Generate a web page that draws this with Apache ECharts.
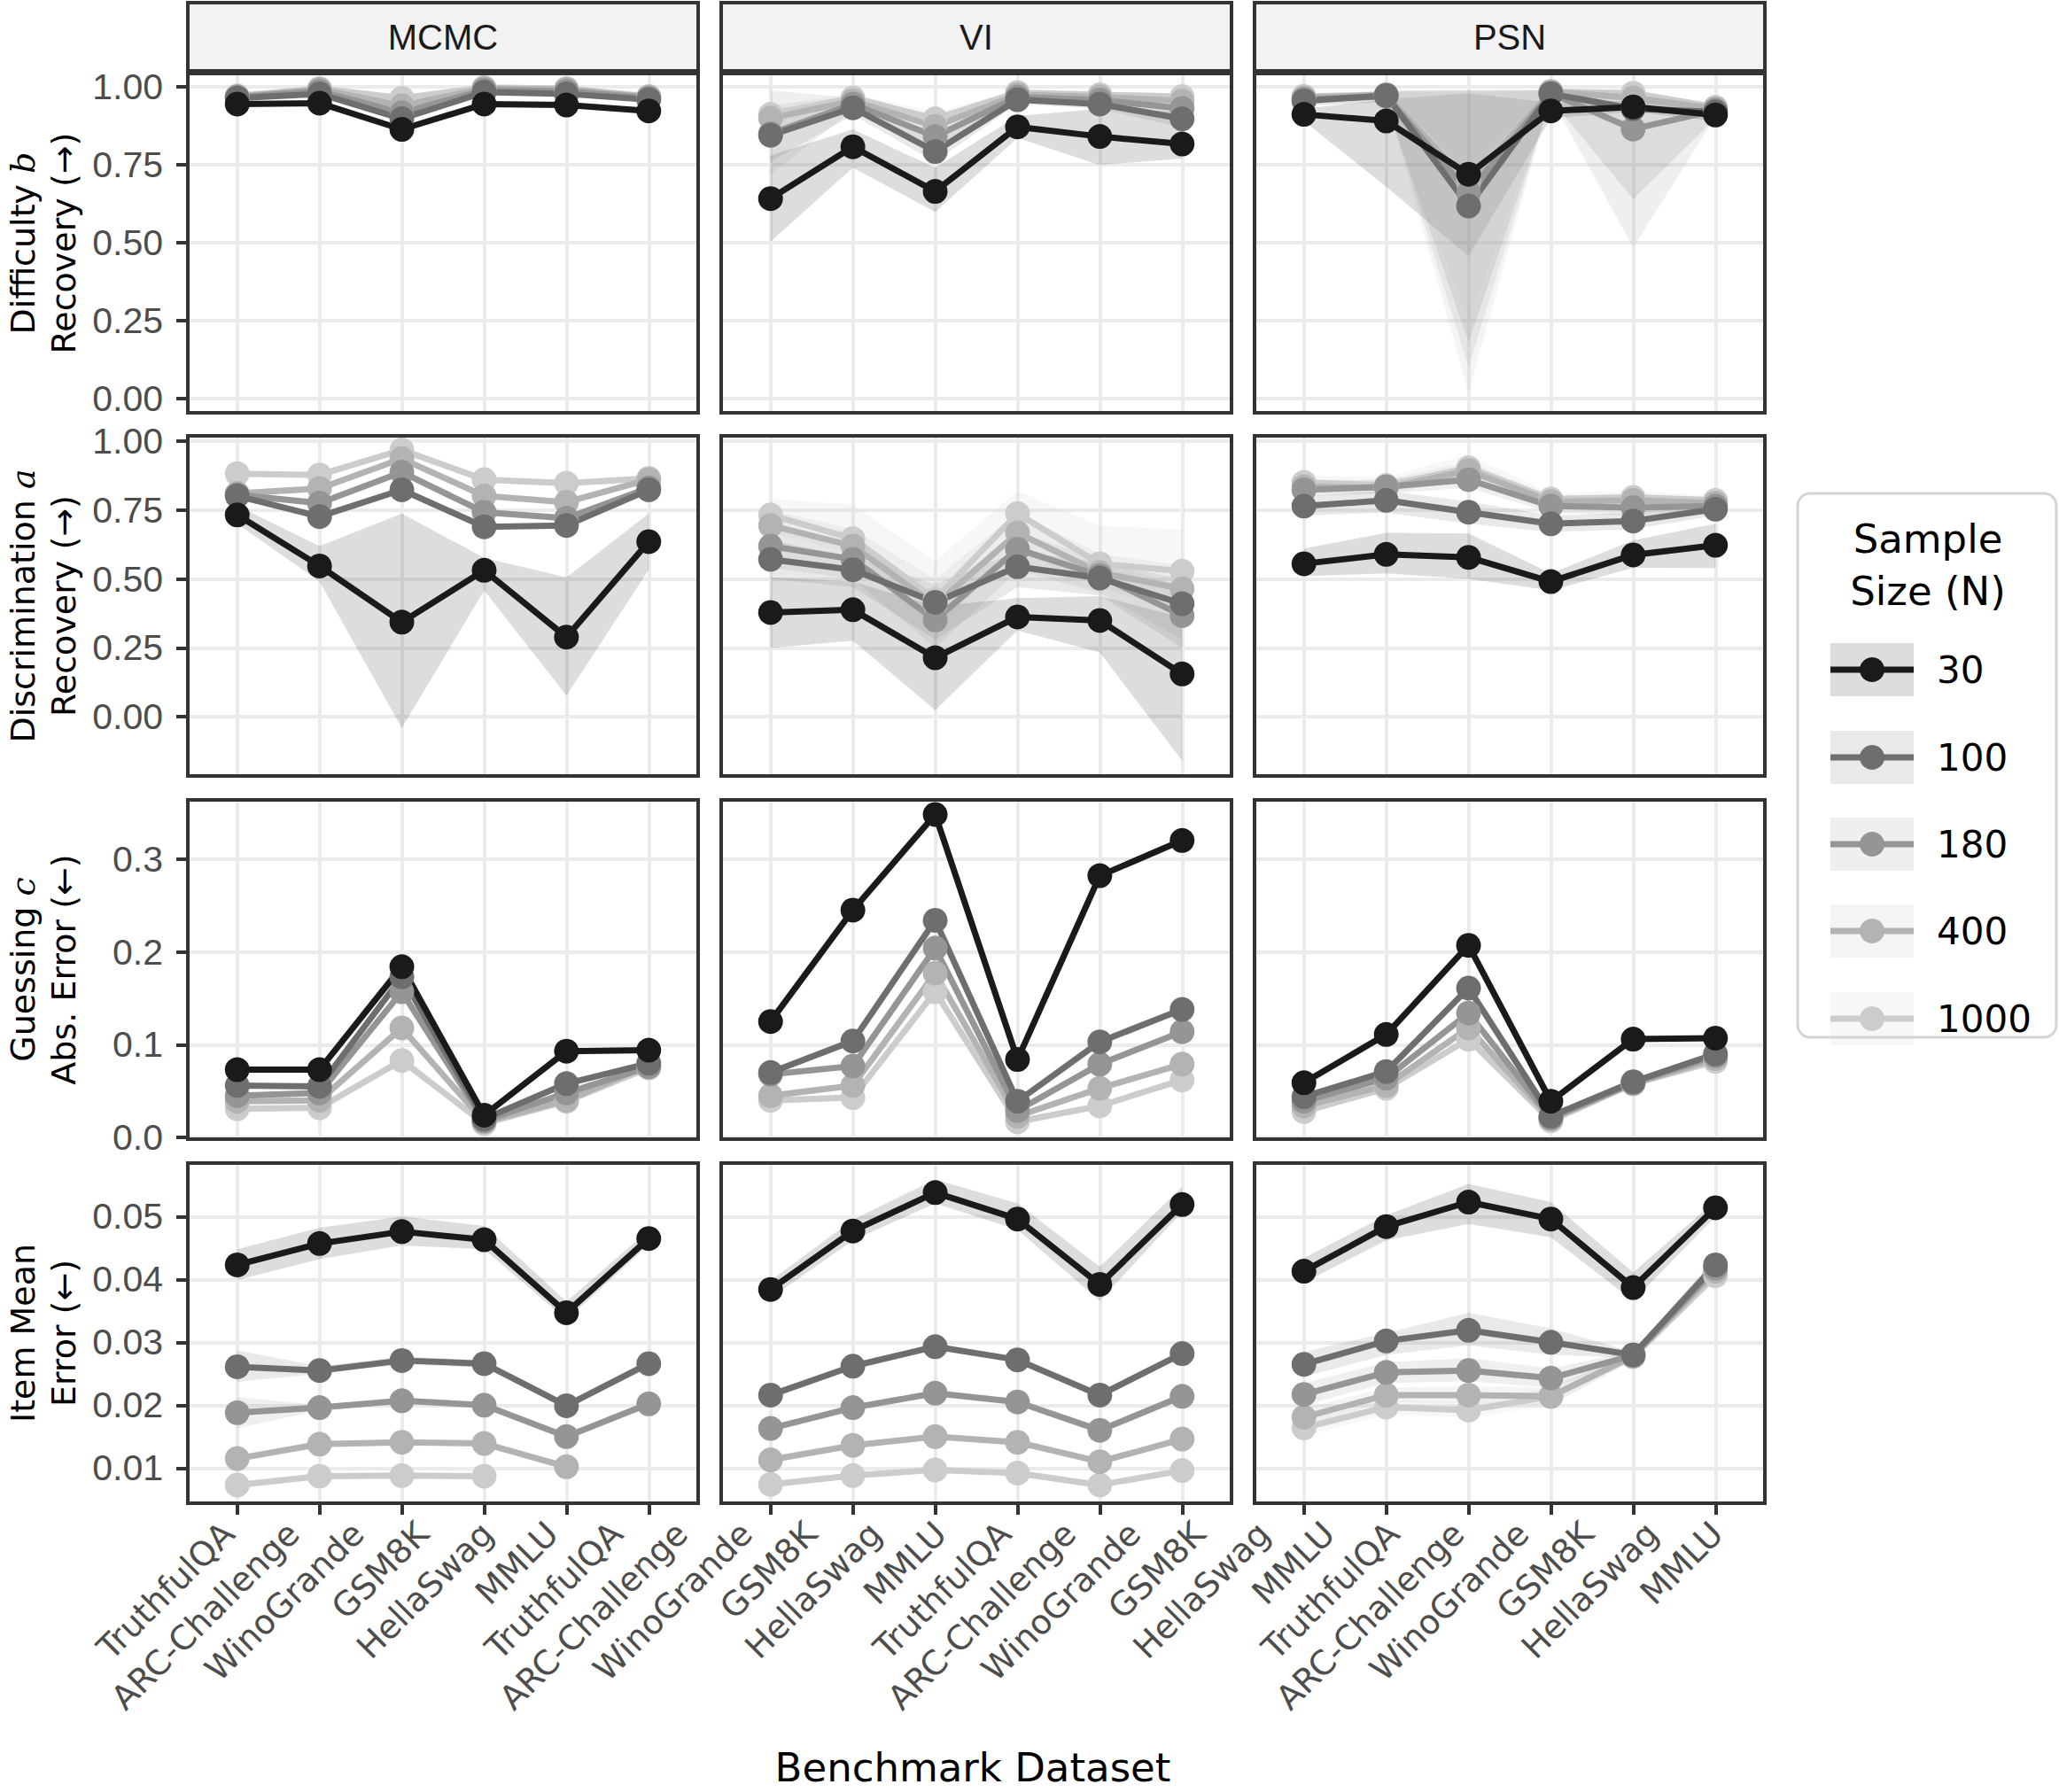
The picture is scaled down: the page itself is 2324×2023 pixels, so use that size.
<!DOCTYPE html>
<html>
<head>
<meta charset="utf-8">
<script src="https://cdn.jsdelivr.net/npm/echarts@6.0.0/dist/echarts.min.js"></script>
<style>
html,body{margin:0;padding:0;background:#ffffff;}
#chart{width:2324px;height:2023px;}
</style>
</head>
<body>
<div id="chart"></div>
<script>
// ---------------- categories & labels ----------------
const benchmarks = ['TruthfulQA', 'ARC-Challenge', 'WinoGrande', 'GSM8K', 'HellaSwag', 'MMLU'];
const methods = ['MCMC', 'VI', 'PSN'];
const sampleSizes = ['30', '100', '180', '400', '1000'];
const xTickLabels = [
  'TruthfulQA', 'ARC-Challenge', 'WinoGrande', 'GSM8K', 'HellaSwag', 'MMLU',
  'TruthfulQA', 'ARC-Challenge', 'WinoGrande', 'GSM8K', 'HellaSwag', 'MMLU',
  'TruthfulQA', 'ARC-Challenge', 'WinoGrande', 'GSM8K', 'HellaSwag', 'MMLU',
  'TruthfulQA', 'ARC-Challenge', 'WinoGrande', 'GSM8K', 'HellaSwag', 'MMLU'
];
const yTickValues = [
  [0, 0.25, 0.5, 0.75, 1],
  [0, 0.25, 0.5, 0.75, 1],
  [0, 0.1, 0.2, 0.3],
  [0.01, 0.02, 0.03, 0.04, 0.05]
];
const yDecimals = [2, 2, 1, 2];
const yRanges = [[-0.045, 1.043], [-0.215, 1.019], [-0.0018, 0.3637], [0.0044, 0.0585]];
const rowTitleMain = ['Difficulty ', 'Discrimination ', 'Guessing ', 'Item Mean'];
const rowTitleVar = ['b', 'a', 'c', ''];
const rowTitleSub = ['Recovery (\u2192)', 'Recovery (\u2192)', 'Abs. Error (\u2190)', 'Error (\u2190)'];
const xAxisTitle = 'Benchmark Dataset';
const legendTitle = ['Sample', 'Size (N)'];

// ---------------- values (rows = N 30,100,180,400,1000; cols = benchmarks) ----------------
// Difficulty b recovery
const b_MCMC_mean = [
  [0.945, 0.948, 0.864, 0.945, 0.942, 0.923],
  [0.964, 0.978, 0.898, 0.983, 0.978, 0.959],
  [0.967, 0.986, 0.917, 0.990, 0.986, 0.964],
  [0.969, 0.992, 0.940, 0.995, 0.992, 0.967],
  [0.971, 0.995, 0.964, 0.998, 0.995, 0.970]
];
const b_MCMC_lo = [null, null, null, null, null];
const b_MCMC_hi = [null, null, null, null, null];
const b_VI_mean = [
  [0.642, 0.808, 0.665, 0.872, 0.841, 0.817],
  [0.845, 0.933, 0.793, 0.959, 0.945, 0.898],
  [0.850, 0.945, 0.841, 0.968, 0.958, 0.931],
  [0.900, 0.955, 0.874, 0.975, 0.968, 0.955],
  [0.912, 0.965, 0.898, 0.982, 0.975, 0.969]
];
const b_VI_lo = [
  [0.504, 0.741, 0.599, 0.836, 0.750, 0.770],
  [0.760, 0.910, 0.760, 0.945, 0.930, 0.870],
  [0.720, 0.925, 0.810, 0.955, 0.945, 0.910],
  [0.860, 0.940, 0.850, 0.965, 0.958, 0.940],
  [0.880, 0.950, 0.875, 0.972, 0.965, 0.955]
];
const b_VI_hi = [
  [0.780, 0.864, 0.741, 0.907, 0.930, 0.920],
  [0.930, 0.955, 0.830, 0.972, 0.960, 0.925],
  [0.990, 0.965, 0.870, 0.980, 0.970, 0.950],
  [0.940, 0.970, 0.900, 0.985, 0.978, 0.968],
  [0.940, 0.978, 0.920, 0.990, 0.985, 0.980]
];
const b_PSN_mean = [
  [0.912, 0.891, 0.720, 0.923, 0.936, 0.910],
  [0.955, 0.973, 0.618, 0.978, 0.930, 0.920],
  [0.960, 0.970, 0.660, 0.980, 0.865, 0.925],
  [0.965, 0.975, 0.690, 0.985, 0.965, 0.930],
  [0.970, 0.975, 0.700, 0.985, 0.980, 0.935]
];
const b_PSN_lo = [
  [0.890, 0.680, 0.457, 0.900, 0.920, 0.890],
  [0.940, 0.950, 0.180, 0.960, 0.640, 0.900],
  [0.945, 0.955, 0.100, 0.965, 0.485, 0.905],
  [0.950, 0.960, 0.020, 0.970, 0.940, 0.915],
  [0.955, 0.960, 0.250, 0.970, 0.965, 0.920]
];
const b_PSN_hi = [
  [0.930, 0.960, 0.980, 0.950, 0.955, 0.930],
  [0.970, 0.990, 0.990, 0.990, 0.990, 0.940],
  [0.970, 0.985, 0.990, 0.990, 0.985, 0.940],
  [0.975, 0.985, 0.985, 0.990, 0.985, 0.945],
  [0.980, 0.985, 0.980, 0.990, 0.990, 0.945]
];

// Discrimination a recovery
const a_MCMC_mean = [
  [0.732, 0.547, 0.343, 0.531, 0.289, 0.635],
  [0.801, 0.726, 0.823, 0.689, 0.694, 0.823],
  [0.805, 0.775, 0.887, 0.742, 0.720, 0.830],
  [0.810, 0.828, 0.936, 0.801, 0.778, 0.860],
  [0.882, 0.877, 0.968, 0.860, 0.847, 0.865]
];
const a_MCMC_lo = [[0.700, 0.490, -0.041, 0.458, 0.077, 0.533], null, null, null, null];
const a_MCMC_hi = [[0.765, 0.619, 0.737, 0.576, 0.506, 0.737], null, null, null, null];
const a_VI_mean = [
  [0.378, 0.388, 0.214, 0.362, 0.349, 0.155],
  [0.571, 0.533, 0.415, 0.544, 0.503, 0.410],
  [0.619, 0.571, 0.351, 0.608, 0.512, 0.367],
  [0.694, 0.619, 0.405, 0.667, 0.523, 0.464],
  [0.732, 0.646, 0.426, 0.737, 0.555, 0.528]
];
const a_VI_lo = [
  [0.249, 0.276, 0.024, 0.313, 0.233, -0.159],
  [0.500, 0.470, 0.280, 0.470, 0.440, 0.250],
  [0.540, 0.500, 0.250, 0.530, 0.450, 0.280],
  [0.630, 0.560, 0.320, 0.600, 0.470, 0.380],
  [0.670, 0.590, 0.360, 0.660, 0.500, 0.450]
];
const a_VI_hi = [
  [0.506, 0.490, 0.400, 0.430, 0.437, 0.360],
  [0.640, 0.580, 0.480, 0.600, 0.560, 0.500],
  [0.680, 0.620, 0.440, 0.670, 0.570, 0.470],
  [0.750, 0.680, 0.500, 0.740, 0.590, 0.550],
  [0.790, 0.770, 0.565, 0.818, 0.694, 0.678]
];
const a_PSN_mean = [
  [0.555, 0.589, 0.578, 0.490, 0.587, 0.622],
  [0.764, 0.785, 0.742, 0.700, 0.710, 0.753],
  [0.823, 0.834, 0.860, 0.764, 0.759, 0.764],
  [0.834, 0.830, 0.893, 0.780, 0.785, 0.775],
  [0.850, 0.839, 0.903, 0.790, 0.796, 0.785]
];
const a_PSN_lo = [
  [0.510, 0.520, 0.500, 0.458, 0.540, 0.539],
  [0.730, 0.740, 0.700, 0.670, 0.680, 0.730],
  [0.800, 0.810, 0.830, 0.740, 0.730, 0.745],
  [0.810, 0.810, 0.860, 0.760, 0.760, 0.760],
  [0.830, 0.820, 0.870, 0.770, 0.770, 0.770]
];
const a_PSN_hi = [
  [0.610, 0.667, 0.665, 0.520, 0.640, 0.700],
  [0.800, 0.820, 0.780, 0.730, 0.740, 0.780],
  [0.850, 0.860, 0.890, 0.790, 0.790, 0.785],
  [0.860, 0.860, 0.925, 0.800, 0.810, 0.790],
  [0.875, 0.870, 0.950, 0.810, 0.820, 0.800]
];

// Guessing c absolute error
const c_MCMC_mean = [
  [0.073, 0.073, 0.184, 0.024, 0.093, 0.094],
  [0.056, 0.055, 0.173, 0.020, 0.058, 0.080],
  [0.045, 0.048, 0.157, 0.018, 0.048, 0.076],
  [0.039, 0.040, 0.118, 0.017, 0.040, 0.078],
  [0.031, 0.032, 0.083, 0.015, 0.039, 0.075]
];
const c_VI_mean = [
  [0.125, 0.245, 0.348, 0.084, 0.282, 0.320],
  [0.070, 0.104, 0.234, 0.039, 0.103, 0.138],
  [0.068, 0.077, 0.204, 0.029, 0.079, 0.114],
  [0.045, 0.056, 0.177, 0.023, 0.053, 0.079],
  [0.040, 0.043, 0.157, 0.017, 0.034, 0.062]
];
const c_PSN_mean = [
  [0.059, 0.111, 0.207, 0.039, 0.106, 0.107],
  [0.044, 0.071, 0.161, 0.023, 0.060, 0.090],
  [0.039, 0.064, 0.134, 0.021, 0.059, 0.088],
  [0.034, 0.056, 0.118, 0.020, 0.058, 0.085],
  [0.028, 0.053, 0.106, 0.018, 0.058, 0.082]
];
const c_none = [null, null, null, null, null];

// Item mean error
const m_MCMC_mean = [
  [0.0423, 0.0457, 0.0476, 0.0463, 0.0347, 0.0465],
  [0.0261, 0.0255, 0.0271, 0.0266, 0.0199, 0.0266],
  [0.0188, 0.0196, 0.0207, 0.0200, 0.0150, 0.0202],
  [0.0115, 0.0138, 0.0141, 0.0139, 0.0102, null],
  [0.0073, 0.0087, 0.0088, 0.0087, null, null]
];
const m_MCMC_lo = [
  [0.0399, 0.0432, 0.0454, 0.0448, 0.0336, 0.0455],
  [0.0237, 0.0250, 0.0265, 0.0260, 0.0195, 0.0260],
  [0.0163, 0.0192, 0.0203, 0.0196, 0.0147, 0.0198],
  null, null
];
const m_MCMC_hi = [
  [0.0448, 0.0482, 0.0500, 0.0485, 0.0365, 0.0478],
  [0.0287, 0.0262, 0.0277, 0.0272, 0.0204, 0.0272],
  [0.0213, 0.0200, 0.0211, 0.0204, 0.0153, 0.0206],
  null, null
];
const m_VI_mean = [
  [0.0384, 0.0477, 0.0538, 0.0496, 0.0392, 0.0519],
  [0.0216, 0.0262, 0.0293, 0.0272, 0.0216, 0.0282],
  [0.0163, 0.0196, 0.0219, 0.0205, 0.0160, 0.0214],
  [0.0113, 0.0136, 0.0150, 0.0141, 0.0110, 0.0146],
  [0.0074, 0.0088, 0.0097, 0.0092, 0.0073, 0.0096]
];
const m_VI_lo = [[0.0370, 0.0462, 0.0521, 0.0479, 0.0366, 0.0507], null, null, null, null];
const m_VI_hi = [[0.0398, 0.0495, 0.0559, 0.0521, 0.0420, 0.0547], null, null, null, null];
const m_PSN_mean = [
  [0.0413, 0.0484, 0.0523, 0.0496, 0.0387, 0.0514],
  [0.0265, 0.0302, 0.0319, 0.0300, 0.0280, 0.0423],
  [0.0217, 0.0252, 0.0255, 0.0243, 0.0279, 0.0418],
  [0.0181, 0.0216, 0.0216, 0.0214, 0.0278, 0.0413],
  [0.0164, 0.0197, 0.0192, 0.0214, 0.0277, 0.0406]
];
const m_PSN_lo = [
  [0.0395, 0.0462, 0.0488, 0.0467, 0.0366, 0.0500],
  [0.0245, 0.0280, 0.0295, 0.0280, 0.0275, 0.0410],
  [0.0200, 0.0235, 0.0238, 0.0228, 0.0272, 0.0408],
  [0.0168, 0.0205, 0.0203, 0.0200, 0.0272, 0.0405],
  [0.0150, 0.0185, 0.0180, 0.0200, 0.0270, 0.0398]
];
const m_PSN_hi = [
  [0.0434, 0.0502, 0.0552, 0.0523, 0.0411, 0.0525],
  [0.0285, 0.0315, 0.0347, 0.0322, 0.0285, 0.0435],
  [0.0235, 0.0268, 0.0275, 0.0258, 0.0286, 0.0428],
  [0.0195, 0.0228, 0.0230, 0.0228, 0.0284, 0.0422],
  [0.0178, 0.0208, 0.0205, 0.0228, 0.0284, 0.0415]
];

// ---------------- tables built from the arrays ----------------
const panelMean = [
  [b_MCMC_mean, b_VI_mean, b_PSN_mean],
  [a_MCMC_mean, a_VI_mean, a_PSN_mean],
  [c_MCMC_mean, c_VI_mean, c_PSN_mean],
  [m_MCMC_mean, m_VI_mean, m_PSN_mean]
];
const panelLo = [
  [b_MCMC_lo, b_VI_lo, b_PSN_lo],
  [a_MCMC_lo, a_VI_lo, a_PSN_lo],
  [c_none, c_none, c_none],
  [m_MCMC_lo, m_VI_lo, m_PSN_lo]
];
const panelHi = [
  [b_MCMC_hi, b_VI_hi, b_PSN_hi],
  [a_MCMC_hi, a_VI_hi, a_PSN_hi],
  [c_none, c_none, c_none],
  [m_MCMC_hi, m_VI_hi, m_PSN_hi]
];

// ---------------- layout & style ----------------
const lineColors = ['#1a1a1a', '#6e6e6e', '#959595', '#b3b3b3', '#cccccc'];
const colLeft = [212, 814, 1416];
const panelW = 576;
const rowTop = [83, 492, 903, 1313];
const rowH = [383, 384, 383, 384];
const stripTop = 3, stripH = 77;
const borderColor = '#333333';
const gridLineColor = '#ebebeb';
const SANS = 'DejaVu Sans';
const ARIAL = 'Liberation Sans';

const grids = [], xAxes = [], yAxes = [], series = [], graphics = [];
const xIdx = [0, 1, 2, 3, 4, 5];

function bandSeries(gi, lo, hi, color) {
  return {
    type: 'custom', xAxisIndex: gi, yAxisIndex: gi, silent: true, z: 1,
    data: lo.map((v, i) => [i, v, hi[i]]),
    encode: { x: 0, y: [1, 2] },
    renderItem: function (params, api) {
      if (params.dataIndex !== 0) return null;
      const bottom = [], top = [];
      for (let i = 0; i < lo.length; i++) {
        bottom.push(api.coord([api.value(0, i), api.value(1, i)]));
        top.push(api.coord([api.value(0, i), api.value(2, i)]));
      }
      return {
        type: 'polygon',
        shape: { points: bottom.concat(top.reverse()) },
        style: { fill: color, opacity: 0.15 }
      };
    }
  };
}

for (let r = 0; r < 4; r++) {
  for (let c = 0; c < 3; c++) {
    const gi = r * 3 + c;
    grids.push({ left: colLeft[c], top: rowTop[r], width: panelW, height: rowH[r], containLabel: false, outerBoundsMode: 'none' });
    xAxes.push({
      gridIndex: gi, type: 'value', min: -0.6, max: 5.6,
      axisLine: { show: false, onZero: false },
      axisTick: { show: r === 3, customValues: xIdx, length: 13, lineStyle: { color: borderColor, width: 4 } },
      axisLabel: { show: false, customValues: xIdx },
      splitLine: { show: true, lineStyle: { color: gridLineColor, width: 4 } }
    });
    const dec = yDecimals[r];
    const nm = '{t|' + rowTitleMain[r] + '}' + (rowTitleVar[r] ? '{v|' + rowTitleVar[r] + '}' : '') + '\n{t|' + rowTitleSub[r] + '}';
    yAxes.push({
      gridIndex: gi, type: 'value', min: yRanges[r][0], max: yRanges[r][1],
      axisLine: { show: false, onZero: false },
      axisTick: { show: c === 0, customValues: yTickValues[r], length: 13, lineStyle: { color: borderColor, width: 4 } },
      axisLabel: {
        show: c === 0, customValues: yTickValues[r], margin: 28,
        formatter: v => Number(v).toFixed(dec),
        fontFamily: ARIAL, fontSize: 41, color: '#4d4d4d'
      },
      splitLine: { show: true, lineStyle: { color: gridLineColor, width: 4 } },
      name: c === 0 ? nm : '',
      nameLocation: 'middle', nameRotate: 90, nameGap: 117,
      nameTextStyle: {
        color: '#000000', align: 'center',
        rich: {
          t: { fontFamily: SANS, fontSize: 38, lineHeight: 46, color: '#000000' },
          v: { fontFamily: 'DejaVu Serif', fontStyle: 'italic', fontSize: 38, lineHeight: 46, color: '#000000' }
        }
      }
    });
    const lo = panelLo[r][c], hi = panelHi[r][c];
    for (let n = 0; n < 5; n++) {
      if (lo[n]) series.push(bandSeries(gi, lo[n], hi[n], lineColors[n]));
    }
  }
}
// lines (drawn 1000 first, 30 last)
for (let r = 0; r < 4; r++) {
  for (let c = 0; c < 3; c++) {
    const gi = r * 3 + c;
    for (let n = 4; n >= 0; n--) {
      const vals = panelMean[r][c][n];
      series.push({
        type: 'line', name: sampleSizes[n], xAxisIndex: gi, yAxisIndex: gi, z: 2, silent: true,
        data: vals.map((v, i) => [i, v]), symbol: 'none', connectNulls: false,
        lineStyle: { color: lineColors[n], width: 7 }
      });
    }
  }
}
// points
for (let r = 0; r < 4; r++) {
  for (let c = 0; c < 3; c++) {
    const gi = r * 3 + c;
    for (let n = 4; n >= 0; n--) {
      const vals = panelMean[r][c][n];
      series.push({
        type: 'scatter', name: sampleSizes[n], xAxisIndex: gi, yAxisIndex: gi, z: 3, silent: true,
        data: vals.map((v, i) => [i, v]).filter(d => d[1] !== null),
        symbol: 'circle', symbolSize: 28,
        itemStyle: { color: lineColors[n], opacity: 1, borderWidth: 0 }
      });
    }
  }
}

// bottom label axis spanning all columns
const labelGrid = grids.length;
grids.push({ left: 258, top: 1712, width: 1680, height: 1, containLabel: false, outerBoundsMode: 'none' });
xAxes.push({
  gridIndex: labelGrid, type: 'category', data: xTickLabels, boundaryGap: false,
  axisLine: { show: false }, axisTick: { show: false }, splitLine: { show: false },
  axisLabel: { interval: 0, rotate: 45, margin: 12, fontFamily: SANS, fontSize: 38, color: '#4d4d4d' },
  name: xAxisTitle, nameLocation: 'middle', nameGap: 260,
  nameTextStyle: { fontFamily: SANS, fontSize: 45, color: '#000000' }
});
yAxes.push({ gridIndex: labelGrid, type: 'value', show: false });

// strips and panel borders
for (let c = 0; c < 3; c++) {
  graphics.push({
    type: 'rect', z: 100, silent: true,
    shape: { x: colLeft[c], y: stripTop, width: panelW, height: stripH },
    style: { fill: '#f2f2f2', stroke: borderColor, lineWidth: 4 }
  });
  graphics.push({
    type: 'text', z: 101, silent: true, x: colLeft[c] + panelW / 2, y: stripTop + stripH / 2,
    style: { text: methods[c], fontFamily: ARIAL, fontSize: 40, fill: '#1a1a1a',
      textAlign: 'center', textVerticalAlign: 'middle', align: 'center', verticalAlign: 'middle' }
  });
}
for (let r = 0; r < 4; r++) {
  for (let c = 0; c < 3; c++) {
    graphics.push({
      type: 'rect', z: 100, silent: true,
      shape: { x: colLeft[c], y: rowTop[r], width: panelW, height: rowH[r] },
      style: { fill: 'rgba(0,0,0,0)', stroke: borderColor, lineWidth: 4 }
    });
  }
}

// legend
const legX = 2029, legY = 557, legW = 292, legH = 614;
const keyX = 2066, keyW = 94, keyH = 60;
const keyRows = [756, 855, 953, 1051, 1150];
graphics.push({
  type: 'rect', z: 100, silent: true,
  shape: { x: legX, y: legY, width: legW, height: legH, r: 14 },
  style: { fill: '#ffffff', stroke: '#d4d4d4', lineWidth: 3 }
});
legendTitle.forEach((t, i) => {
  graphics.push({
    type: 'text', z: 101, silent: true, x: 2176, y: 608 + i * 59,
    style: { text: t, fontFamily: SANS, fontSize: 45, fill: '#000000',
      textAlign: 'center', textVerticalAlign: 'middle', align: 'center', verticalAlign: 'middle' }
  });
});
sampleSizes.forEach((s, n) => {
  const y = keyRows[n];
  graphics.push({ type: 'rect', z: 101, silent: true,
    shape: { x: keyX, y: y - keyH / 2, width: keyW, height: keyH },
    style: { fill: lineColors[n], opacity: 0.15 } });
  graphics.push({ type: 'line', z: 102, silent: true,
    shape: { x1: keyX, y1: y, x2: keyX + keyW, y2: y },
    style: { stroke: lineColors[n], lineWidth: 7 } });
  graphics.push({ type: 'circle', z: 103, silent: true,
    shape: { cx: keyX + keyW / 2, cy: y, r: 14 },
    style: { fill: lineColors[n] } });
  graphics.push({ type: 'text', z: 103, silent: true, x: 2186, y: y,
    style: { text: s, fontFamily: SANS, fontSize: 42, fill: '#000000',
      textAlign: 'left', textVerticalAlign: 'middle', align: 'left', verticalAlign: 'middle' } });
});

const chart = echarts.init(document.getElementById('chart'), null, { renderer: 'svg', width: 2324, height: 2023 });
chart.setOption({
  backgroundColor: '#ffffff',
  animation: false,
  tooltip: { show: false },
  grid: grids,
  xAxis: xAxes,
  yAxis: yAxes,
  series: series,
  graphic: { elements: graphics }
});
</script>
</body>
</html>
